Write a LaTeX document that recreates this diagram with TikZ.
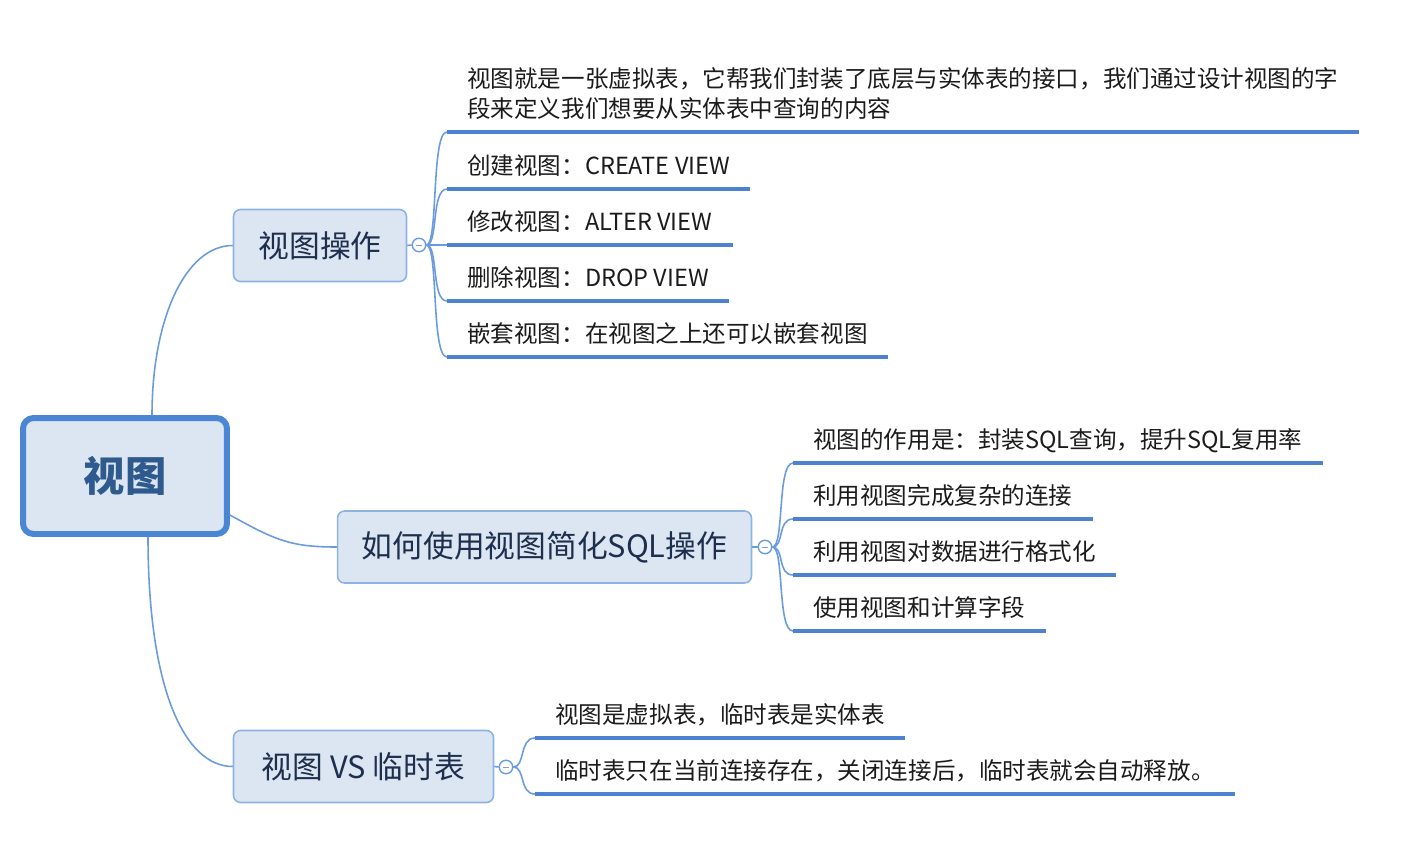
\documentclass[tikz,border=0pt]{standalone}
\usepackage{fontspec}
\setmainfont{Noto Sans CJK SC}
\usepackage{tikz}
\usetikzlibrary{positioning,calc}
\definecolor{cEdge}{HTML}{4A86D4}
\definecolor{cLink}{HTML}{6A9BDC}
\definecolor{cRule}{HTML}{4C82CF}
\definecolor{cBox}{HTML}{DCE6F2}
\definecolor{cTopicEdge}{HTML}{8DB3E2}
\definecolor{cTopicTxt}{HTML}{1E2F4D}
\definecolor{cRootTxt}{HTML}{2F5A8E}
\definecolor{cInk}{HTML}{1B1B1B}
\definecolor{cGrey}{HTML}{8A9BB5}
\tikzset{
  rootbox/.style={draw=cEdge, line width=3.4pt, rounded corners=6pt, fill=cBox,
                  minimum width=4.08cm, minimum height=2.32cm,
                  font=\fontsize{23.5}{28}\selectfont\bfseries, text=cRootTxt},
  topic/.style={draw=cTopicEdge, line width=0.9pt, rounded corners=4pt, fill=cBox,
                minimum height=1.44cm, inner sep=0pt,
                font=\fontsize{17.5}{21}\selectfont, text=cTopicTxt},
  fold/.style={circle, draw=cLink, line width=0.8pt, fill=white, inner sep=0pt,
               minimum size=0.27cm, text=cGrey, font=\tiny},
  leaf/.style={anchor=south west, inner xsep=0.4cm, inner ysep=7.9pt,
               text height=11.8pt, text depth=0pt, align=left,
               font=\fontsize{13.4}{17}\selectfont, text=cInk},
  link/.style={cLink, line width=0.9pt},
  uline/.style={cRule, line width=2.3pt}
}
\begin{document}
\begin{tikzpicture}[x=0.02cm, y=-0.02cm]
\useasboundingbox (0,0) rectangle (1418,860);
% central topic and main branches
\node[rootbox] (root) at (125,476) {视图};
\node[topic, minimum width=3.46cm] (ops) at (320,245.5) {视图操作};
\node[topic, minimum width=8.28cm] (sql) at (544.5,547) {如何使用视图简化SQL操作};
\node[topic, minimum width=5.2cm] (vs) at (363.5,766.5) {视图 VS 临时表};
\node[fold] (opsF) at (419,245) {\rule{3.5pt}{0.5pt}};
\node[fold] (sqlF) at (765,547) {\rule{3.5pt}{0.5pt}};
\node[fold] (vsF) at (506,767) {\rule{3.5pt}{0.5pt}};
% leaves
\node[leaf] (ops1) at (447,132) {视图就是一张虚拟表，它帮我们封装了底层与实体表的接口，我们通过设计视图的字\\段来定义我们想要从实体表中查询的内容};
\node[leaf] (ops2) at (447,189) {创建视图：CREATE VIEW};
\node[leaf] (ops3) at (447,245) {修改视图：ALTER VIEW};
\node[leaf] (ops4) at (447,301) {删除视图：DROP VIEW};
\node[leaf] (ops5) at (447,357) {嵌套视图：在视图之上还可以嵌套视图};
\node[leaf] (sql1) at (793,463) {视图的作用是：封装SQL查询，提升SQL复用率};
\node[leaf] (sql2) at (793,519) {利用视图完成复杂的连接};
\node[leaf] (sql3) at (793,575) {利用视图对数据进行格式化};
\node[leaf] (sql4) at (793,631) {使用视图和计算字段};
\node[leaf] (vs1) at (535,738) {视图是虚拟表，临时表是实体表};
\node[leaf] (vs2) at (535,794) {临时表只在当前连接存在，关闭连接后，临时表就会自动释放。};
% connectors
\draw[link] ($(root.north)+(27,0)$) .. controls (152,320) and (185,245.5) .. (ops.west);
\draw[link] ($(root.east)+(0,39)$) .. controls (275,540) and (290,547) .. (sql.west);
\draw[link] ($(root.south)+(23,0)$) .. controls (148,690) and (185,766.5) .. (vs.west);
\draw[link] (ops.east) -- (opsF.west);
\draw[link] (sql.east) -- (sqlF.west);
\draw[link] (vs.east) -- (vsF.west);
\foreach \n in {ops1,ops2,ops3,ops4,ops5}
  \draw[link] (opsF.east) .. controls +(12,0) and +(-16,0) .. (\n.south west);
\foreach \n in {sql1,sql2,sql3,sql4}
  \draw[link] (sqlF.east) .. controls +(12,0) and +(-16,0) .. (\n.south west);
\foreach \n in {vs1,vs2}
  \draw[link] (vsF.east) .. controls +(12,0) and +(-16,0) .. (\n.south west);
\foreach \n in {ops1,ops2,ops3,ops4,ops5,sql1,sql2,sql3,sql4,vs1,vs2}
  \draw[uline] (\n.south west) -- (\n.south east);
\end{tikzpicture}
\end{document}
